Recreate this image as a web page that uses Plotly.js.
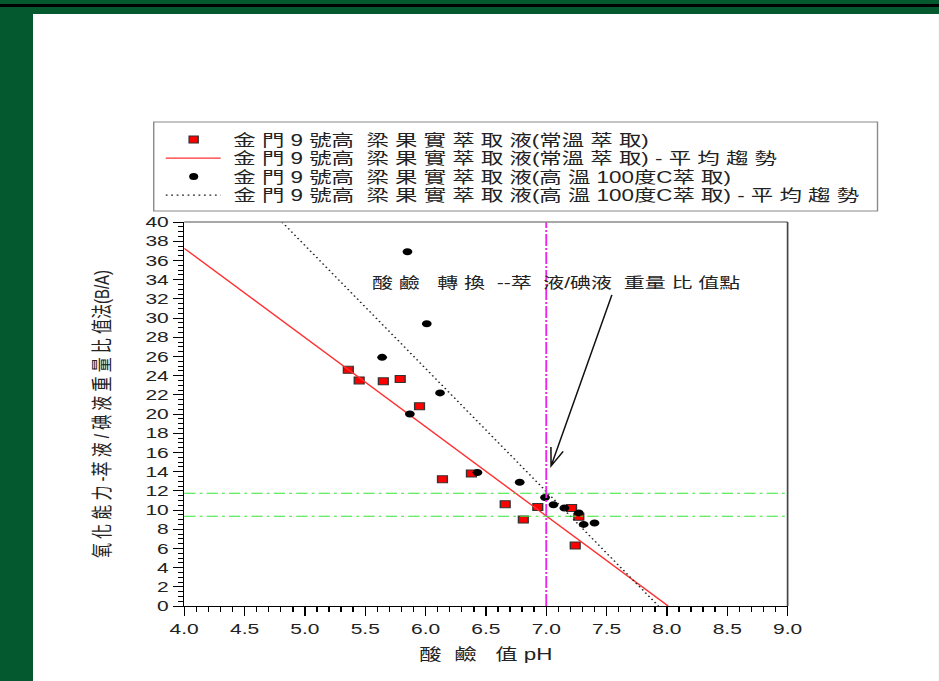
<!DOCTYPE html>
<html>
<head>
<meta charset="utf-8">
<script src="https://cdn.plot.ly/plotly-3.0.1.min.js"></script>
<style>
  html, body { margin: 0; padding: 0; width: 939px; height: 681px; overflow: hidden; background: #04592f; }
  #stripe { position: absolute; left: 0; top: 4px; width: 939px; height: 3px; background: #000; }
  #chart { position: absolute; left: 33px; top: 14px; width: 647px; height: 667px;
           background: #fff; transform: scaleX(1.4); transform-origin: 0 0; }
</style>
</head>
<body>
<div id="stripe"></div>
<div id="chart"></div>
<script>
// 常溫萃取：pH 與萃液/碘液重量比
const roomPH    = [5.36, 5.45, 5.65, 5.79, 5.95, 6.14, 6.38, 6.66, 6.81, 6.93, 7.21, 7.27, 7.24];
const roomRatio = [24.6, 23.5, 23.4, 23.65, 20.8, 13.2, 13.8, 10.6, 9.0, 10.3, 10.2, 9.3, 6.3];

// 高溫 100度C 萃取
const hotPH    = [5.85, 6.01, 5.64, 6.12, 5.87, 6.43, 6.78, 6.99, 7.06, 7.15, 7.27, 7.31, 7.40];
const hotRatio = [36.9, 29.4, 25.9, 22.2, 20.0, 13.9, 12.9, 11.3, 10.55, 10.2, 9.7, 8.5, 8.65];

// 平均趨勢線端點
const roomTrendPH    = [4.0, 8.01];
const roomTrendRatio = [37.26, 0];
const hotTrendPH     = [4.81, 7.93];
const hotTrendRatio  = [40, 0];

// 酸鹼轉換參考線
const neutralPH   = 7.0;
const crossRatios = [11.75, 9.35];

// 轉換點標示箭頭（尾 → 頭）
const arrowTail = [7.544, 32.4];
const arrowHead = [7.04, 14.58];

// 刻度
const xTickVals   = [4.0, 4.5, 5.0, 5.5, 6.0, 6.5, 7.0, 7.5, 8.0, 8.5, 9.0];
const xTickLabels = ['4.0', '4.5', '5.0', '5.5', '6.0', '6.5', '7.0', '7.5', '8.0', '8.5', '9.0'];
const yTickVals   = [0, 2, 4, 6, 8, 10, 12, 14, 16, 18, 20, 22, 24, 26, 28, 30, 32, 34, 36, 38, 40];
const yTickLabels = yTickVals.map(String);

const seriesNames = [
  '金 門 9 號高  梁 果 實 萃 取 液(常溫 萃 取)',
  '金 門 9 號高  梁 果 實 萃 取 液(常溫 萃 取) - 平 均 趨 勢',
  '金 門 9 號高  梁 果 實 萃 取 液(高 溫 100度C萃 取)',
  '金 門 9 號高  梁 果 實 萃 取 液(高 溫 100度C萃 取) - 平 均 趨 勢'
];
const noteText   = '酸 鹼   轉 換  --萃  液/碘液  重量 比 值點';
const xTitleText = '酸  鹼   值 pH';
const yTitleText = '氧 化 能 力 -萃 液 / 碘 液 重 量 比 值法(B/A)';

// keep runs of spaces visible in SVG text
const keepSpaces = s => s.replace(/ /g, '\u00a0');

const FONT = '"Liberation Sans", Arial, "Noto Sans CJK TC", sans-serif';

// plot size on screen (after the horizontal 1.4 stretch) used for the arrow head
const PLOT_W_SCREEN = 604.5, PLOT_H = 384, X_SPAN = 5, Y_SPAN = 40;

const roomMarker = { symbol: 'square', size: 7, color: '#ff0000', line: { color: '#333', width: 1 } };
const roomLine   = { color: '#ff3030', width: 1.2 };
const hotMarker  = { symbol: 'circle', size: 7, color: '#000000' };
const hotLine    = { color: '#222', width: 1.2, dash: '1.3px,2.6px' };

const traces = [
  { x: roomPH, y: roomRatio, type: 'scatter', mode: 'markers', name: seriesNames[0], marker: roomMarker },
  { x: roomTrendPH, y: roomTrendRatio, type: 'scatter', mode: 'lines', name: seriesNames[1], line: roomLine },
  { x: hotPH, y: hotRatio, type: 'scatter', mode: 'markers', name: seriesNames[2], marker: hotMarker },
  { x: hotTrendPH, y: hotTrendRatio, type: 'scatter', mode: 'lines', name: seriesNames[3], line: hotLine }
];

const shapes = [];
crossRatios.forEach(r => shapes.push({
  type: 'line', xref: 'paper', x0: 0, x1: 1, yref: 'y', y0: r, y1: r,
  line: { color: '#35e835', width: 1.1, dash: '8px,3px,2px,3px' }
}));
shapes.push({
  type: 'line', xref: 'x', x0: neutralPH, x1: neutralPH, yref: 'paper', y0: 0, y1: 1,
  line: { color: '#ee22ee', width: 1.3, dash: '12px,2px,2px,2px' }
});
// upper and right frame
shapes.push({ type: 'line', xref: 'paper', yref: 'paper', x0: 0, x1: 1, y0: 1, y1: 1,
              line: { color: '#8a8a8a', width: 1.5 } });
shapes.push({ type: 'line', xref: 'paper', yref: 'paper', x0: 1, x1: 1, y0: 0, y1: 1,
              line: { color: '#444', width: 1.2 } });

// Arrow: shaft plus an open V head, arms 20° either side of the shaft
(function () {
  const pxX = PLOT_W_SCREEN / X_SPAN, pxY = PLOT_H / Y_SPAN;
  const dx = (arrowTail[0] - arrowHead[0]) * pxX, dy = (arrowTail[1] - arrowHead[1]) * pxY;
  const len = Math.hypot(dx, dy), ux = dx / len, uy = dy / len;
  const arm = 19, a = 20 * Math.PI / 180;
  const armPt = s => {
    const c = Math.cos(s * a), n = Math.sin(s * a);
    const vx = ux * c - uy * n, vy = ux * n + uy * c;
    return [arrowHead[0] + vx * arm / pxX, arrowHead[1] + vy * arm / pxY];
  };
  const p1 = armPt(1), p2 = armPt(-1);
  shapes.push({
    type: 'path', xref: 'x', yref: 'y',
    path: `M${arrowTail[0]},${arrowTail[1]} L${arrowHead[0]},${arrowHead[1]} ` +
          `M${p1[0]},${p1[1]} L${arrowHead[0]},${arrowHead[1]} L${p2[0]},${p2[1]}`,
    line: { color: '#111', width: 1.1 }
  });
})();

// Legend box above the plot: four rows, key on the left, name on the right
const annotations = [];
const LEG = { x0: -0.0505, x1: 1.149, y0: 1.0286, y1: 1.2604,
              keyX: 0.0157, lineX0: -0.0306, lineX1: 0.0604, textX: 0.0755,
              rowTop: 1.2148, rowStep: 0.0482, halfW: 0.0075, halfH: 0.0092 };
shapes.push({ type: 'rect', xref: 'paper', yref: 'paper', x0: LEG.x0, x1: LEG.x1, y0: LEG.y0, y1: LEG.y1,
              line: { color: '#8a8a8a', width: 1 }, fillcolor: '#ffffff', layer: 'below' });
traces.forEach((t, i) => {
  const ry = LEG.rowTop - i * LEG.rowStep;
  if (t.mode === 'lines') {
    shapes.push({ type: 'line', xref: 'paper', yref: 'paper', x0: LEG.lineX0, x1: LEG.lineX1, y0: ry, y1: ry,
                  line: t.line });
  } else {
    shapes.push({ type: t.marker.symbol === 'square' ? 'rect' : 'circle', xref: 'paper', yref: 'paper',
                  x0: LEG.keyX - LEG.halfW, x1: LEG.keyX + LEG.halfW,
                  y0: ry - LEG.halfH, y1: ry + LEG.halfH,
                  fillcolor: t.marker.color,
                  line: t.marker.line ? t.marker.line : { width: 0 } });
  }
  annotations.push({ xref: 'paper', yref: 'paper', x: LEG.textX, y: ry, xanchor: 'left', yanchor: 'middle',
                     showarrow: false, text: keepSpaces(t.name), font: { size: 16, color: '#222' } });
});

annotations.push({
  xref: 'x', yref: 'y', x: 7.085, y: 33.75, showarrow: false,
  text: keepSpaces(noteText), font: { size: 15, color: '#222' }
});

const layout = {
  width: 647, height: 667,
  margin: { l: 107.5, r: 107.7, t: 208, b: 75 },
  paper_bgcolor: '#ffffff', plot_bgcolor: '#ffffff',
  font: { family: FONT, size: 15, color: '#222' },
  showlegend: false,
  xaxis: {
    range: [4, 9], tickmode: 'array', tickvals: xTickVals, ticktext: xTickLabels,
    ticks: 'outside', ticklen: 9, tickwidth: 1, tickcolor: '#000',
    minor: { dtick: 0.1, ticks: 'outside', ticklen: 5, tickwidth: 1, tickcolor: '#000' },
    showline: true, linecolor: '#000', linewidth: 1, showgrid: false, zeroline: false,
    tickfont: { size: 15, color: '#222' },
    title: { text: keepSpaces(xTitleText), font: { size: 16, color: '#222' }, standoff: 12 }
  },
  yaxis: {
    range: [0, 40], tickmode: 'array', tickvals: yTickVals, ticktext: yTickLabels,
    ticks: 'outside', ticklen: 7, tickwidth: 1, tickcolor: '#000',
    minor: { dtick: 0.5, ticks: 'outside', ticklen: 3.5, tickwidth: 1, tickcolor: '#000' },
    showline: true, linecolor: '#000', linewidth: 1, showgrid: false, zeroline: false,
    tickfont: { size: 15, color: '#222' },
    title: { text: keepSpaces(yTitleText), font: { size: 15, color: '#222' }, standoff: 21 }
  },
  shapes: shapes,
  annotations: annotations
};

Plotly.newPlot('chart', traces, layout, { staticPlot: true, displayModeBar: false });
</script>
</body>
</html>
